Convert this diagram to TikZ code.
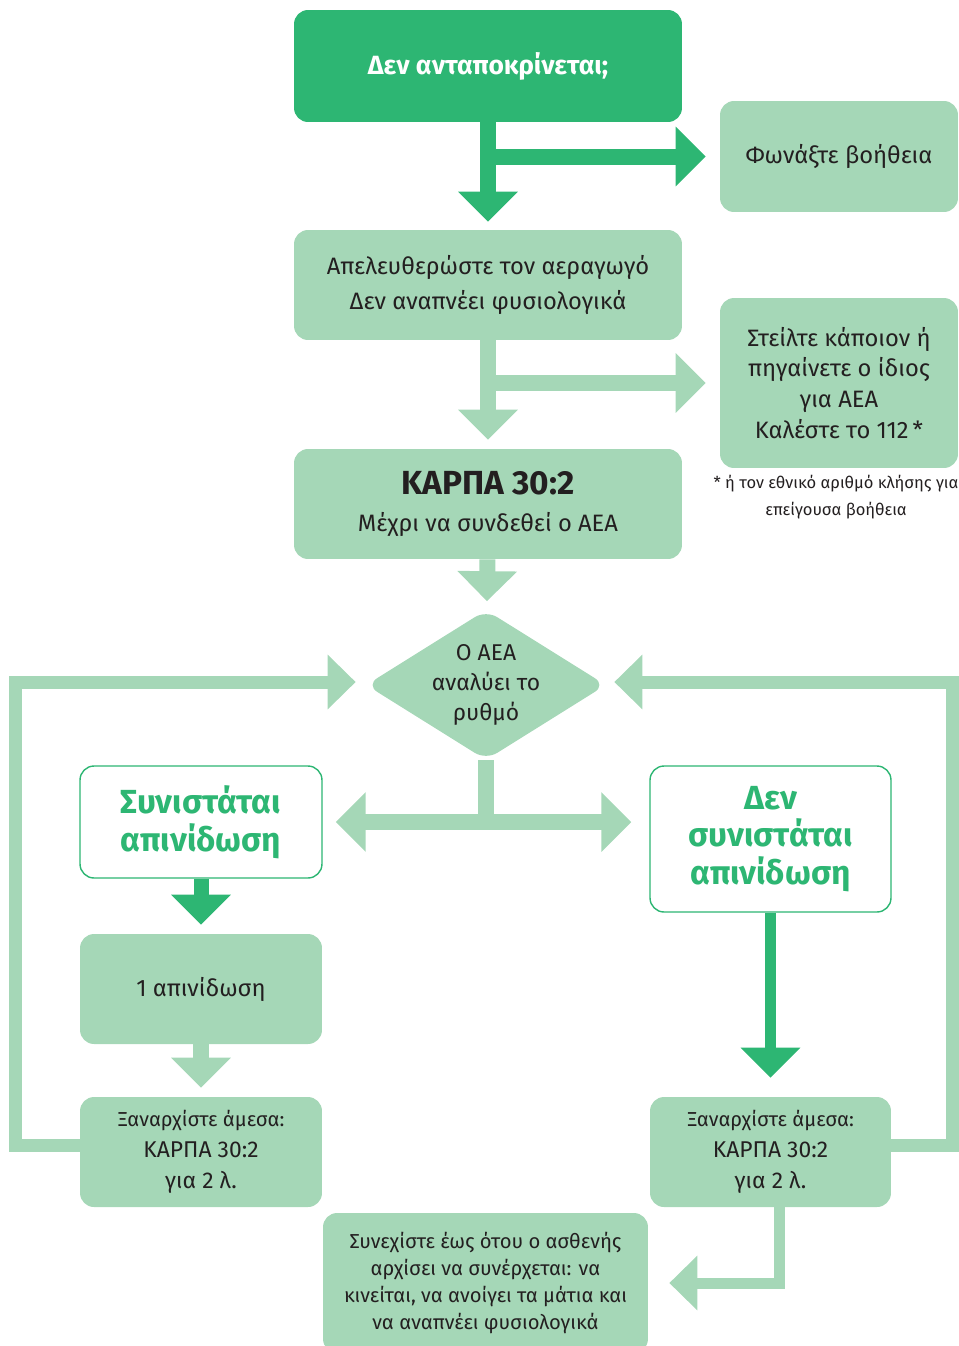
\documentclass[tikz,border=0pt]{standalone}
\usepackage{fontspec}
\setmainfont{Fira Sans}
\usepackage{tikz}
\usetikzlibrary{shapes.geometric, arrows.meta, positioning, calc}
\definecolor{prasino}{HTML}{2DB673}
\definecolor{anoixto}{HTML}{A5D7B7}
\definecolor{mavro}{HTML}{231F20}
\tikzset{
  kouti/.style={rectangle, rounded corners=0.28cm, fill=anoixto, text=mavro,
    align=center, inner sep=2pt, font=\fontsize{13.5}{20}\selectfont},
  skouro/.style={kouti, fill=prasino, text=white,
    font=\bfseries\fontsize{15}{18}\selectfont},
  leuko/.style={kouti, fill=white, draw=prasino, line width=0.8pt, text=prasino,
    font=\bfseries\fontsize{19}{21.5}\selectfont},
  velos/.style={-{Triangle[width=1.16cm, length=0.6cm]}, line width=0.32cm, prasino},
  avelos/.style={velos, anoixto}
}

\begin{document}
\begin{tikzpicture}[x=0.02cm, y=-0.02cm,
  rombos/.style={diamond, aspect=1.6, rounded corners=0.26cm, fill=anoixto,
    text=mavro, align=center, inner sep=-4pt, minimum width=4.8cm,
    minimum height=3cm, font=\fontsize{13}{17}\selectfont},
  vrogxos/.style={-{Triangle[width=1.06cm, length=0.56cm]}, line width=0.26cm, anoixto},
  simeiosi/.style={text=mavro, align=center, font=\fontsize{9.4}{15.3}\selectfont}]
  \useasboundingbox (0,0) rectangle (958,1346);

  % --- Arxi ---
  \node[skouro, minimum width=7.76cm, minimum height=2.24cm] (resp) at (488,66)
    {Δεν ανταποκρίνεται;};
  \node[kouti, minimum width=4.76cm, minimum height=2.22cm] (help) at (839,156.5)
    {Φωνάξτε βοήθεια};
  \node[kouti, minimum width=7.76cm, minimum height=2.2cm] (airway) at (488,285)
    {Απελευθερώστε τον αεραγωγό\\Δεν αναπνέει φυσιολογικά};
  \node[kouti, minimum width=4.76cm, minimum height=3.4cm,
    font=\fontsize{13.5}{17.6}\selectfont] (send) at (839,383)
    {Στείλτε κάποιον ή\\πηγαίνετε ο ίδιος\\για ΑΕΑ\\Καλέστε το 112\,*};
  \node[simeiosi] (note) at (836,497)
    {* ή τον εθνικό αριθμό κλήσης για\\επείγουσα βοήθεια};
  \node[kouti, minimum width=7.76cm, minimum height=2.2cm] (karpa) at (488,504)
    {{\bfseries\fontsize{19}{22}\selectfont ΚΑΡΠΑ 30:2}\\[1pt]Μέχρι να συνδεθεί ο ΑΕΑ};

  % --- Analysi rythmou ---
  \node[rombos] (analyse) at (486,685) {Ο ΑΕΑ\\αναλύει το\\ρυθμό};
  \node[leuko, minimum width=4.84cm, minimum height=2.24cm] (shockL) at (201,822)
    {Συνιστάται\\απινίδωση};
  \node[leuko, minimum width=4.82cm, minimum height=2.92cm] (shockR) at (770.5,839)
    {Δεν\\συνιστάται\\απινίδωση};
  \node[kouti, minimum width=4.84cm, minimum height=2.2cm] (oneshock) at (201,989)
    {1 απινίδωση};
  \node[kouti, minimum width=4.84cm, minimum height=2.2cm,
    font=\fontsize{13}{17.8}\selectfont] (restartL) at (201,1152)
    {{\fontsize{11.5}{17.8}\selectfont Ξαναρχίστε άμεσα:}\\ΚΑΡΠΑ 30:2\\για 2 λ.};
  \node[kouti, minimum width=4.82cm, minimum height=2.2cm,
    font=\fontsize{13}{17.8}\selectfont] (restartR) at (770.5,1152)
    {{\fontsize{11.5}{17.8}\selectfont Ξαναρχίστε άμεσα:}\\ΚΑΡΠΑ 30:2\\για 2 λ.};
  \node[kouti, minimum width=6.5cm, minimum height=2.8cm,
    font=\fontsize{11.5}{15.3}\selectfont] (cont) at (485.5,1283)
    {Συνεχίστε έως ότου ο ασθενής\\αρχίσει να συνέρχεται: να\\κινείται, να ανοίγει τα μάτια και\\να αναπνέει φυσιολογικά};

  % --- Velh ---
  \draw[velos, shorten >=0.16cm] (resp) -- (airway);
  \draw[velos, shorten >=0.28cm] (resp.south |- help.west) -- (help.west);
  \draw[avelos, shorten >=0.18cm] (airway) -- (karpa);
  \draw[avelos, shorten >=0.28cm] (airway.south |- send.west) -- (send.west);
  \draw[avelos, shorten >=0.18cm] (karpa) -- (analyse);
  \draw[avelos, shorten >=0.26cm] (analyse.south) |- (shockL.east);
  \draw[avelos, shorten >=0.36cm] (analyse.south) |- ([yshift=0.34cm]shockR.west);
  \draw[velos, line width=0.3cm, shorten >=0.18cm] (shockL) -- (oneshock);
  \draw[velos, line width=0.22cm, shorten >=0.38cm] (shockR) -- (restartR);
  \draw[avelos, shorten >=0.18cm] (oneshock) -- (restartL);

  % vrogxoi pisw sto AEA
  \draw[vrogxos, shorten >=0.2cm] ([yshift=0.14cm]restartL.west) -- ++(-64,0)
    |- ([yshift=0.06cm]analyse.west);
  \draw[vrogxos, shorten >=0.16cm] ([yshift=0.14cm]restartR.east) -- ++(61,0)
    |- ([yshift=0.06cm]analyse.east);
  \draw[vrogxos, line width=0.22cm, shorten >=0.42cm] ([xshift=0.18cm]restartR.south)
    |- (cont.east);

\end{tikzpicture}
\end{document}
